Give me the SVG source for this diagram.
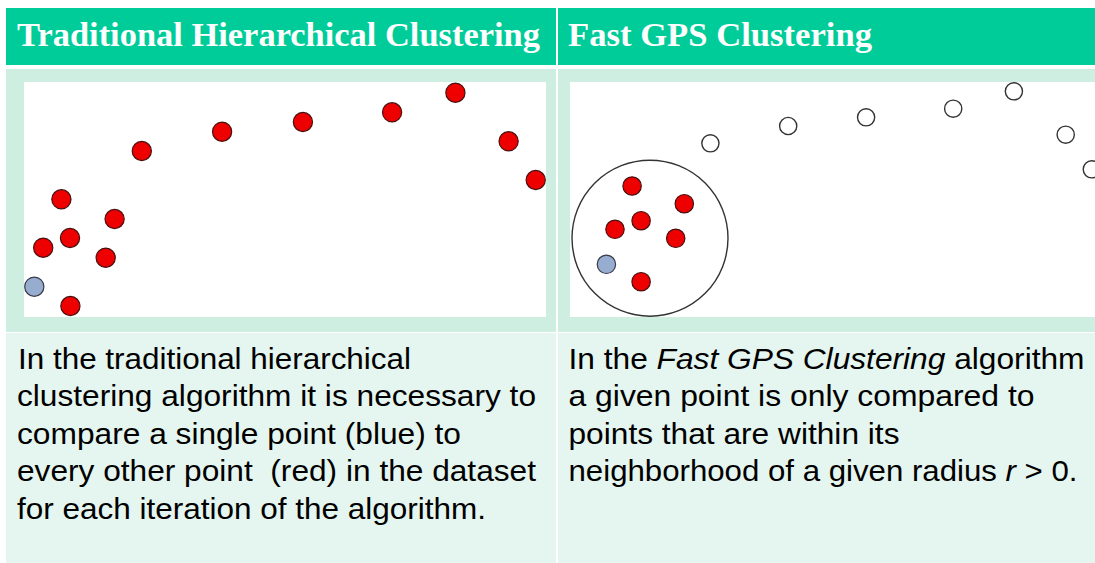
<svg xmlns="http://www.w3.org/2000/svg" width="1095" height="563" viewBox="0 0 1095 563">
<style>
.hdr{fill:#00cc99}
.row2{fill:#cdeee1}
.row3{fill:#e5f5ef}
.pic{fill:#ffffff}
.htxt{font-family:"Liberation Serif","Times New Roman",serif;font-weight:bold;font-size:34.3px;fill:#ffffff}
.btxt{font-family:"Liberation Sans",Arial,sans-serif;font-size:30px;fill:#000000}
.red{fill:#ee0000;stroke:#4a1010;stroke-width:1.2}
.blue{fill:#96add0;stroke:#3a3a4a;stroke-width:1.2}
.hollow{fill:#ffffff;stroke:#333333;stroke-width:1.4}
.ring{fill:none;stroke:#333333;stroke-width:1.4}
</style>
<rect x="0" y="0" width="1095" height="563" fill="#ffffff"/>
<g id="header-left">
<rect class="hdr" x="6" y="8" width="550" height="57"/>
<text class="htxt" x="17" y="46" textLength="523" lengthAdjust="spacingAndGlyphs">Traditional Hierarchical Clustering</text>
</g>
<g id="header-right">
<rect class="hdr" x="558" y="8" width="537" height="57"/>
<text class="htxt" x="568" y="46" textLength="304" lengthAdjust="spacingAndGlyphs">Fast GPS Clustering</text>
</g>
<g id="picture-left">
<rect class="row2" x="6" y="69" width="550" height="263"/>
<rect class="pic" x="24" y="82" width="522" height="235"/>
<circle class="red" cx="455.4" cy="92.7" r="9.6"/>
<circle class="red" cx="392.1" cy="112.3" r="9.6"/>
<circle class="red" cx="302.9" cy="122" r="9.6"/>
<circle class="red" cx="222.1" cy="131.7" r="9.6"/>
<circle class="red" cx="141.8" cy="151" r="9.6"/>
<circle class="red" cx="508.6" cy="141.3" r="9.6"/>
<circle class="red" cx="535.7" cy="180" r="9.6"/>
<circle class="red" cx="61.4" cy="199.3" r="9.6"/>
<circle class="red" cx="114.6" cy="219" r="9.6"/>
<circle class="red" cx="70" cy="238" r="9.6"/>
<circle class="red" cx="43.2" cy="247.7" r="9.6"/>
<circle class="red" cx="105.7" cy="257.7" r="9.6"/>
<circle class="blue" cx="34.3" cy="286.7" r="9.6"/>
<circle class="red" cx="70.4" cy="306" r="9.6"/>
</g>
<g id="picture-right">
<rect class="row2" x="558" y="69" width="537" height="263"/>
<rect class="pic" x="570" y="82" width="525" height="235"/>
<circle class="ring" cx="650" cy="238.2" r="78"/>
<circle class="hollow" cx="710.4" cy="143.3" r="8.6"/>
<circle class="hollow" cx="788.2" cy="126" r="8.6"/>
<circle class="hollow" cx="866.1" cy="117.3" r="8.6"/>
<circle class="hollow" cx="953.2" cy="108.7" r="8.6"/>
<circle class="hollow" cx="1013.9" cy="91.3" r="8.6"/>
<circle class="hollow" cx="1065.7" cy="134.7" r="8.6"/>
<circle class="hollow" cx="1091.8" cy="169.3" r="8.6"/>
<circle class="red" cx="632.1" cy="186" r="9.2"/>
<circle class="red" cx="684.3" cy="203.7" r="9.2"/>
<circle class="red" cx="641.1" cy="220.7" r="9.2"/>
<circle class="red" cx="615" cy="229.3" r="9.2"/>
<circle class="red" cx="675.7" cy="238.3" r="9.2"/>
<circle class="blue" cx="606.4" cy="264.3" r="9.2"/>
<circle class="red" cx="641.1" cy="281.7" r="9.2"/>
</g>
<g id="text-left">
<rect class="row3" x="6" y="333" width="550" height="230"/>
<text class="btxt" x="18" y="368.5" textLength="393" lengthAdjust="spacingAndGlyphs">In the traditional hierarchical</text>
<text class="btxt" x="17" y="406.1" textLength="519" lengthAdjust="spacingAndGlyphs">clustering algorithm it is necessary to</text>
<text class="btxt" x="17" y="443.7" textLength="444" lengthAdjust="spacingAndGlyphs">compare a single point (blue) to</text>
<text class="btxt" x="17" y="481.3" textLength="519" lengthAdjust="spacingAndGlyphs" xml:space="preserve">every other point  (red) in the dataset</text>
<text class="btxt" x="17" y="518.9" textLength="469" lengthAdjust="spacingAndGlyphs">for each iteration of the algorithm.</text>
</g>
<g id="text-right">
<rect class="row3" x="558" y="333" width="537" height="230"/>
<text class="btxt" x="568.5" y="368.5" textLength="516" lengthAdjust="spacingAndGlyphs">In the <tspan font-style="italic">Fast GPS Clustering</tspan> algorithm</text>
<text class="btxt" x="568.5" y="406.1" textLength="466" lengthAdjust="spacingAndGlyphs">a given point is only compared to</text>
<text class="btxt" x="568.5" y="443.7" textLength="331" lengthAdjust="spacingAndGlyphs">points that are within its</text>
<text class="btxt" x="568.5" y="481.3" textLength="509" lengthAdjust="spacingAndGlyphs">neighborhood of a given radius <tspan font-style="italic">r</tspan> &gt; 0.</text>
</g>
</svg>
